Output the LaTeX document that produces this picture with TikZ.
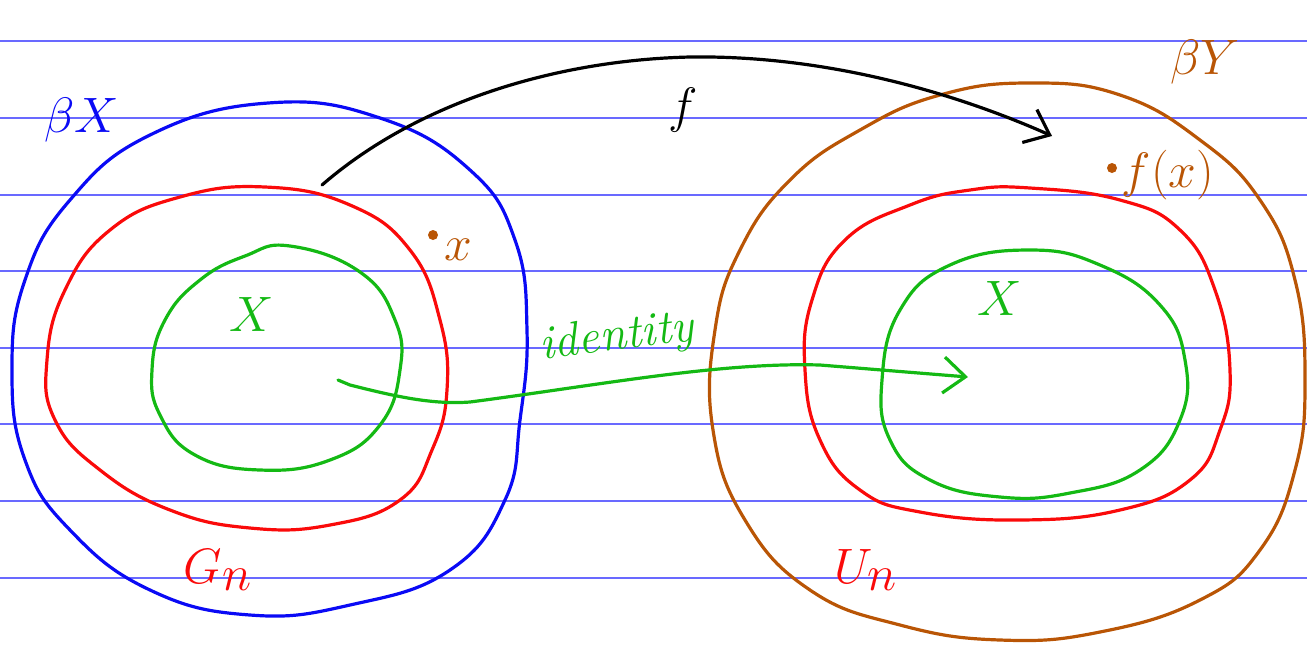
\documentclass[tikz,border=0pt]{standalone}
\usetikzlibrary{arrows.meta}
\definecolor{rule}{RGB}{105,105,255}
\definecolor{pblue}{RGB}{10,10,245}
\definecolor{pred}{RGB}{250,10,10}
\definecolor{pgreen}{RGB}{20,185,20}
\definecolor{pbrown}{RGB}{185,85,5}
\tikzset{
  ruleline/.style={rule,line width=0.6pt},
  pen/.style={line width=1.6pt,line cap=round,line join=round},
  barb/.style={-{Straight Barb[length=11pt,width=18pt,line width=1.6pt]}},
  lab/.style={inner sep=0pt,anchor=center},
  dotmark/.style={circle,fill=pbrown,inner sep=0pt,minimum size=5pt},
}
\begin{document}
\begin{tikzpicture}[x=0.5pt,y=-0.5pt]
\useasboundingbox (0,0) rectangle (1307,645);
% ruled paper
\foreach \yy [count=\i] in {41,118,195,271,348,424,501,578}
  \draw[ruleline] (0,\yy) coordinate (rl\i) -- (1307,\yy) coordinate (rr\i);
% left side
\draw[pen,pblue] plot[smooth cycle,tension=0.75] coordinates {(268,103) (380,118) (470,170) (515,240) (527,330) (520,420) (505,500) (450,570) (350,605) (250,615) (150,590) (70,530) (25,460) (12,370) (25,280) (70,200) (150,135)};
\draw[pen,pred] plot[smooth cycle,tension=0.75] coordinates {(265,187) (350,205) (410,250) (440,320) (447,390) (432,450) (400,500) (330,525) (250,528) (170,510) (100,470) (55,420) (47,360) (65,290) (110,230) (180,197)};
\draw[pen,pgreen] plot[smooth cycle,tension=0.75] coordinates {(290,246) (360,272) (395,320) (400,370) (380,425) (330,460) (260,470) (195,455) (160,415) (152,370) (165,320) (200,280) (245,256)};
% right side
\draw[pen,pbrown] plot[smooth cycle,tension=0.75] coordinates {(1030,83) (1120,95) (1200,140) (1260,200) (1295,280) (1305,380) (1295,470) (1260,550) (1200,600) (1100,632) (1000,640) (900,625) (810,590) (745,520) (713,430) (715,330) (740,250) (790,180) (860,130) (940,95)};
\draw[pen,pred] plot[smooth cycle,tension=0.75] coordinates {(1030,188) (1120,200) (1180,230) (1215,290) (1230,370) (1220,430) (1190,480) (1120,510) (1020,520) (920,512) (860,490) (820,440) (805,370) (812,300) (845,240) (910,205) (970,190)};
\draw[pen,pgreen] plot[smooth cycle,tension=0.75] coordinates {(1030,250) (1100,265) (1160,305) (1185,360) (1180,420) (1140,470) (1070,493) (1000,497) (930,480) (890,440) (882,380) (900,310) (950,265)};
% labels
\node[lab,pblue] (bX) at (82,120) {\fontsize{52}{52}\selectfont$\beta X$};
\node[dotmark] (xd) at (433,235) {};
\node[lab,pbrown] (x) at (458,250) {\fontsize{34}{34}\selectfont$x$};
\node[lab,pgreen] (X1) at (252,314) {\fontsize{32}{32}\selectfont$X$};
\node[lab,pred] (Gn) at (218,570) {\fontsize{44}{44}\selectfont$G_n$};
\node[lab] (f) at (683,110) {\fontsize{52}{52}\selectfont$f$};
\node[lab,pbrown] (bY) at (1205,62) {\fontsize{52}{52}\selectfont$\beta Y$};
\node[dotmark] (fxd) at (1112,168) {};
\node[lab,pbrown] (fx) at (1168,175) {\fontsize{34}{34}\selectfont$f(x)$};
\node[lab,pgreen] (X2) at (1000,298) {\fontsize{32}{32}\selectfont$X$};
\node[lab,pred] (Un) at (866,570) {\fontsize{44}{44}\selectfont$U_n$};
\node[lab,pgreen,rotate=7] (id) at (617,338) {\fontsize{24}{24}\selectfont\itshape identity};
% arrows
\coordinate (fs) at (322,185);
\coordinate (fe) at (1052,136);
\draw[pen,barb] (fs) .. controls (420,100) and (560,60) .. (690,57) .. controls (830,55) and (960,95) .. (fe);
\coordinate (is) at (338,380);
\coordinate (ie) at (968,377);
\draw[pen,pgreen,barb] (is) -- (350,385) .. controls (390,395) and (430,405) .. (470,402) .. controls (600,385) and (720,362) .. (820,365) -- (ie);
\end{tikzpicture}
\end{document}
